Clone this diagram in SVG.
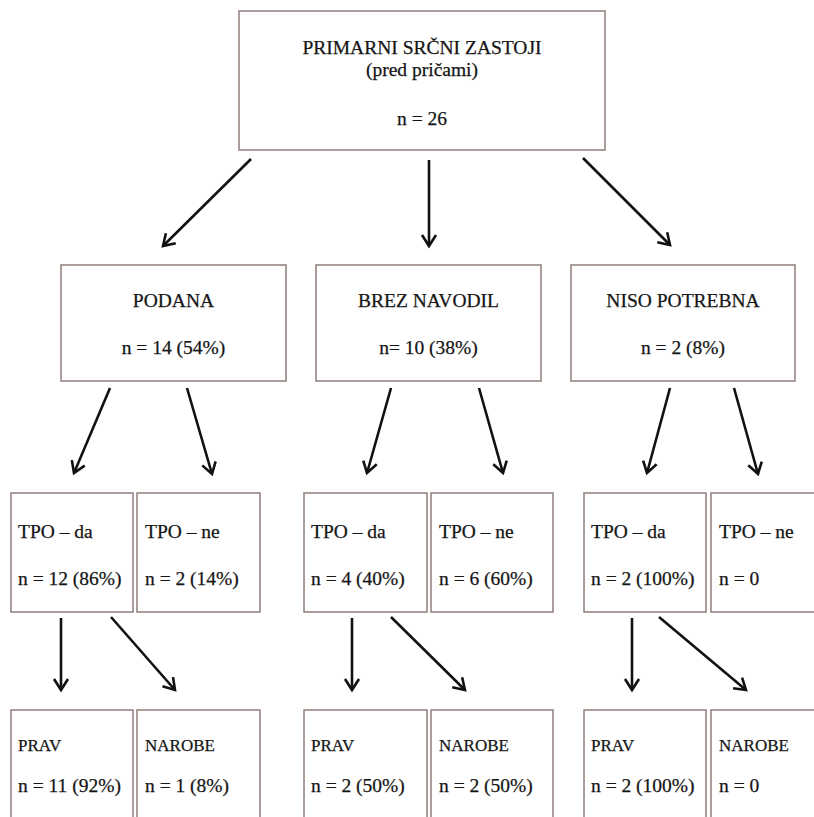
<svg xmlns="http://www.w3.org/2000/svg" width="814" height="817" viewBox="0 0 814 817">
  <style>
    .box { fill: #ffffff; stroke: #8e7d7a; stroke-width: 1.5; }
    text { font-family: 'Liberation Serif', 'Times New Roman', 'DejaVu Serif', serif; fill: #151515; stroke: #151515; stroke-width: 0.25; font-size: 19.5px; }
    .c { text-anchor: middle; }
    .s { font-size: 17px; }
    .arrow { stroke: #111; stroke-width: 2.6; fill: none; marker-end: url(#head); }
  </style>
  <defs>
    <marker id="head" markerUnits="userSpaceOnUse" markerWidth="20" markerHeight="20" refX="0" refY="0" viewBox="-14 -10 18 20" orient="auto">
      <path d="M-11,-7 L0,0 L-11,7" stroke="#111" stroke-width="2.6" fill="none"/>
    </marker>
  </defs>
  <rect width="814" height="817" fill="#ffffff"/>

  <!-- root -->
  <g id="root">
    <rect class="box" x="239" y="11" width="366" height="139"/>
    <text class="c" x="422" y="54">PRIMARNI SRČNI ZASTOJI</text>
    <text class="c" x="422" y="76">(pred pričami)</text>
    <text class="c" x="422" y="125">n = 26</text>
  </g>

  <!-- second level -->
  <g id="podana">
    <rect class="box" x="61" y="265" width="225" height="116"/>
    <text class="c" x="173.5" y="307">PODANA</text>
    <text class="c" x="173.5" y="354">n = 14 (54%)</text>
  </g>
  <g id="brez-navodil">
    <rect class="box" x="316" y="265" width="225" height="116"/>
    <text class="c" x="428.5" y="307">BREZ NAVODIL</text>
    <text class="c" x="428.5" y="354">n= 10 (38%)</text>
  </g>
  <g id="niso-potrebna">
    <rect class="box" x="571" y="265" width="224" height="116"/>
    <text class="c" x="683" y="307">NISO POTREBNA</text>
    <text class="c" x="683" y="354">n = 2 (8%)</text>
  </g>

  <!-- third level -->
  <g id="podana-tpo-da">
    <rect class="box" x="11" y="493" width="122" height="119"/>
    <text x="18" y="538">TPO – da</text>
    <text x="18" y="585">n = 12 (86%)</text>
  </g>
  <g id="podana-tpo-ne">
    <rect class="box" x="137" y="493" width="123" height="119"/>
    <text x="145" y="538">TPO – ne</text>
    <text x="145" y="585">n = 2 (14%)</text>
  </g>
  <g id="brez-tpo-da">
    <rect class="box" x="304" y="493" width="123" height="119"/>
    <text x="311" y="538">TPO – da</text>
    <text x="311" y="585">n = 4 (40%)</text>
  </g>
  <g id="brez-tpo-ne">
    <rect class="box" x="431" y="493" width="122" height="119"/>
    <text x="439" y="538">TPO – ne</text>
    <text x="439" y="585">n = 6 (60%)</text>
  </g>
  <g id="niso-tpo-da">
    <rect class="box" x="584" y="493" width="122" height="119"/>
    <text x="591" y="538">TPO – da</text>
    <text x="591" y="585">n = 2 (100%)</text>
  </g>
  <g id="niso-tpo-ne">
    <rect class="box" x="711" y="493" width="122" height="119"/>
    <text x="719" y="538">TPO – ne</text>
    <text x="719" y="585">n = 0</text>
  </g>

  <!-- fourth level -->
  <g id="podana-prav">
    <rect class="box" x="11" y="710" width="122" height="120"/>
    <text class="s" x="18" y="751">PRAV</text>
    <text x="18" y="792">n = 11 (92%)</text>
  </g>
  <g id="podana-narobe">
    <rect class="box" x="137" y="710" width="123" height="120"/>
    <text class="s" x="145" y="751">NAROBE</text>
    <text x="145" y="792">n = 1 (8%)</text>
  </g>
  <g id="brez-prav">
    <rect class="box" x="304" y="710" width="123" height="120"/>
    <text class="s" x="311" y="751">PRAV</text>
    <text x="311" y="792">n = 2 (50%)</text>
  </g>
  <g id="brez-narobe">
    <rect class="box" x="431" y="710" width="122" height="120"/>
    <text class="s" x="439" y="751">NAROBE</text>
    <text x="439" y="792">n = 2 (50%)</text>
  </g>
  <g id="niso-prav">
    <rect class="box" x="584" y="710" width="122" height="120"/>
    <text class="s" x="591" y="751">PRAV</text>
    <text x="591" y="792">n = 2 (100%)</text>
  </g>
  <g id="niso-narobe">
    <rect class="box" x="711" y="710" width="122" height="120"/>
    <text class="s" x="719" y="751">NAROBE</text>
    <text x="719" y="792">n = 0</text>
  </g>

  <!-- connectors -->
  <g id="connectors">
    <line class="arrow" x1="251" y1="159" x2="163" y2="246"/>
    <line class="arrow" x1="429" y1="160" x2="429" y2="246"/>
    <line class="arrow" x1="583" y1="158" x2="670" y2="245"/>

    <line class="arrow" x1="110" y1="388" x2="74" y2="473"/>
    <line class="arrow" x1="187" y1="388" x2="212" y2="474"/>
    <line class="arrow" x1="391" y1="388" x2="367" y2="473"/>
    <line class="arrow" x1="479" y1="388" x2="503" y2="473"/>
    <line class="arrow" x1="670" y1="388" x2="647" y2="473"/>
    <line class="arrow" x1="734" y1="388" x2="758" y2="474"/>

    <line class="arrow" x1="61" y1="618" x2="61" y2="690"/>
    <line class="arrow" x1="111" y1="617" x2="175" y2="690"/>
    <line class="arrow" x1="352" y1="618" x2="352" y2="690"/>
    <line class="arrow" x1="391" y1="617" x2="465" y2="690"/>
    <line class="arrow" x1="632" y1="618" x2="632" y2="690"/>
    <line class="arrow" x1="659" y1="617" x2="746" y2="690"/>
  </g>
</svg>
